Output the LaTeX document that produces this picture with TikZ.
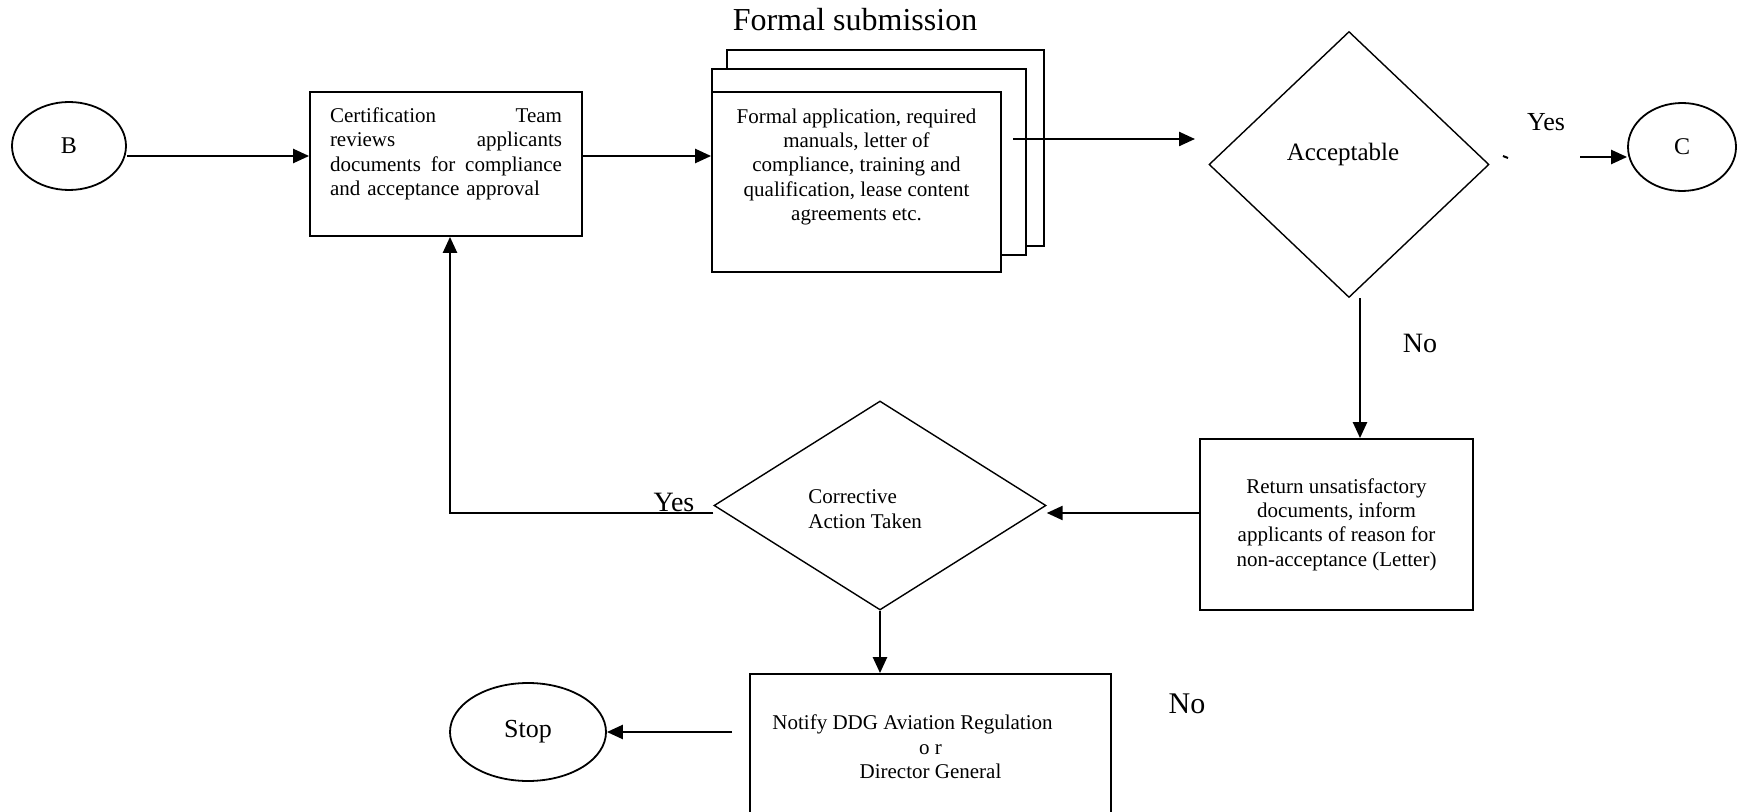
\documentclass[tikz,border=0pt]{standalone}
\usepackage{fontspec}
\setmainfont{Liberation Serif}
\usetikzlibrary{arrows.meta,positioning,shapes.geometric}
\newcommand{\fillline}[1]{\leavevmode\hbox to 116pt{#1}}

\begin{document}
\begin{tikzpicture}[x=0.5pt, y=-0.5pt,
  arr/.style={line width=1.2pt,-{Triangle[length=8pt,width=7pt]}},
  proc/.style={draw,line width=0.9pt,inner sep=0pt,fill=white},
  dec/.style={diamond,draw,line width=0.7pt,inner sep=0pt},
  term/.style={ellipse,draw,line width=0.9pt,inner sep=0pt},
  txt/.style={inner sep=0pt,font=\fontsize{10.5}{12.2}\selectfont}]
\useasboundingbox (0,0) rectangle (1739,812);
% --- top row ---
  \node[term,minimum width=57pt,minimum height=44pt,font=\fontsize{12}{14}\selectfont] (B) at (69,146) {B};
  \node[proc,minimum width=136pt,minimum height=72pt] (cert) at (446,164) {};
  \node[txt,text width=116pt,anchor=north] (certtxt) at ([yshift=-8pt]cert.north)
    {\fillline{Certification\hfill Team}\\ \fillline{reviews\hfill applicants}\\
     \fillline{documents\hfill for\hfill compliance}\\ and acceptance approval};
  % stacked documents
  \node[proc,minimum width=158.5pt,minimum height=98pt] (subback) at (885.5,148) {};
  \node[proc,minimum width=157pt,minimum height=93pt] (submid) at (869,162) {};
  \node[proc,minimum width=144.5pt,minimum height=90pt] (sub) at (856.5,182) {};
  \node[txt,align=center,anchor=north] (subtxt) at ([yshift=-8.5pt]sub.north)
    {Formal application, required\\ manuals, letter of\\ compliance, training and\\ qualification, lease content\\ agreements etc.};
  \node[font=\fontsize{16}{19}\selectfont] (subtitle) at (855,20) {Formal submission};
  \node[dec,minimum width=140pt,minimum height=133pt] (acc) at (1349,164.5) {};
  \node[font=\fontsize{12.5}{14}\selectfont] (acctxt) at (1343,154) {Acceptable};
  \node[term,minimum width=54pt,minimum height=44pt,font=\fontsize{12}{14}\selectfont] (C) at (1682,147) {C};
  \node[font=\fontsize{13}{15}\selectfont] (yesacc) at (1546,122) {Yes};
  \node[font=\fontsize{14}{16}\selectfont] (noacc) at (1420,343) {No};
% --- bottom row ---
  \node[proc,minimum width=136.5pt,minimum height=85.5pt,align=center,font=\fontsize{10.5}{12.2}\selectfont] (ret) at (1336.5,524.5)
    {Return unsatisfactory\\ documents, inform\\ applicants of reason for\\ non-acceptance (Letter)};
  \node[dec,minimum width=166pt,minimum height=104.5pt] (corr) at (880,505.5) {};
  \node[txt,align=left,anchor=west] (corrtxt) at (808,509) {Corrective\\ Action Taken};
  \node[font=\fontsize{14}{16}\selectfont,anchor=base] (yescorr) at (674,511) {Yes};
  \node[proc,minimum width=180.5pt,minimum height=73pt,align=center,font=\fontsize{10.5}{12.2}\selectfont] (notify) at (930.5,747)
    {Notify DDG Aviation Regulation\hspace*{18pt}\\ o r\\ Director General};
  \node[term,minimum width=78pt,minimum height=49pt,font=\fontsize{13}{15}\selectfont] (stop) at (528,732) {Stop};
  \node[font=\fontsize{15}{17}\selectfont] (nocorr) at (1187,704) {No};
% --- connectors ---
  \draw[arr] (B.east |- 0,156) -- (cert.west |- 0,156);
  \draw[arr] (cert.east |- 0,156) -- (sub.west |- 0,156);
  \coordinate (subout) at (1013,139);
  \coordinate (accin) at (1195,139);
  \draw[arr] (subout) -- (accin);
  \coordinate (yesdash) at (1503,156);
  \draw[line width=1pt] (yesdash) -- ++(5,2);
  \coordinate (yesend) at (1580,157);
  \draw[arr] (yesend) -- (C.west |- 0,157);
  \draw[arr] (acc.south -| 1360,0) -- (ret.north -| 1360,0);
  \draw[arr] (ret.west |- 0,513) -- (corr.east |- 0,513);
  \draw[arr] (corr.west |- 0,513) -| (cert.south -| 450,0);
  \draw[arr] (corr.south) -- (corr.south |- notify.north);
  \coordinate (notifyout) at (732,732);
  \draw[arr] (notifyout) -- (stop.east);
\end{tikzpicture}
\end{document}
